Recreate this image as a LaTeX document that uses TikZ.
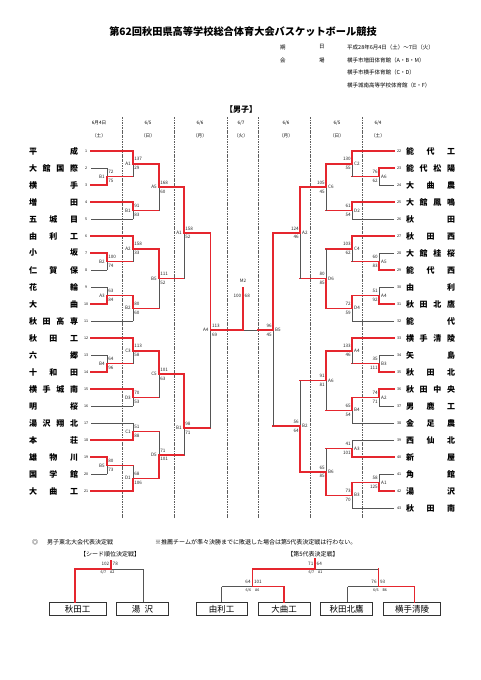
\documentclass[tikz,border=0pt]{standalone}
\usepackage{fontspec}
\setmainfont{Noto Sans CJK JP}
\usetikzlibrary{positioning}

\definecolor{winred}{HTML}{E5262E}
\definecolor{losegray}{HTML}{555555}
\definecolor{sepgray}{HTML}{5E5E5E}

\tikzset{
  win/.style={draw=winred, line width=1.5pt, line cap=rect},
  lose/.style={draw=losegray, line width=0.8pt},
  sep/.style={draw=sepgray, line width=0.6pt, dash pattern=on 2.2pt off 1pt on 0.6pt off 1pt},
  tin-t/.style=win, bin-t/.style=lose, tv-t/.style=win,  bv-t/.style=lose,
  tin-b/.style=lose, bin-b/.style=win, tv-b/.style=lose, bv-b/.style=win,
  tin-T/.style=win, bin-T/.style=win,  tv-T/.style=win,  bv-T/.style=lose,
  tin-B/.style=win, bin-B/.style=win,  tv-B/.style=lose, bv-B/.style=win,
  team/.style={inner sep=0pt, font=\fontsize{8}{9}\selectfont\bfseries},
  seed/.style={inner sep=0pt, font=\fontsize{3.6}{4}\selectfont},
  score/.style={inner sep=0.5pt, text=black!85, font=\fontsize{4.6}{5}\selectfont},
  mlabel/.style={inner sep=0.5pt, text=black!85, font=\fontsize{4.6}{5}\selectfont},
  head/.style={inner sep=0pt, align=center, font=\fontsize{4.6}{13}\selectfont},
  info/.style={inner sep=0pt, anchor=west, font=\fontsize{5.5}{6}\selectfont},
  note/.style={inner sep=0pt, anchor=west, font=\fontsize{6}{7}\selectfont},
  tiny/.style={inner sep=0pt, font=\fontsize{3.6}{4}\selectfont},
  resbox/.style={draw=black!80, line width=0.8pt, minimum height=13pt, inner sep=0pt, font=\fontsize{8.5}{9}\selectfont},
}

% spread glue between the letters of a school name
\newcommand\gp{\hfill{}}

% match on the left half: name, x, top in, bottom in, y out, winner code, scores, label
\newcommand\boutL[9]{%
  \coordinate (#1-t) at (#2,0 |- #3);
  \coordinate (#1-b) at (#2,0 |- #4);
  \coordinate (#1-o) at (#2,#5);
  \draw[bin-#6] (#4) -- (#1-b);
  \draw[bv-#6] (#1-b) -- (#1-o);
  \draw[tin-#6] (#3) -- (#1-t);
  \draw[tv-#6] (#1-t) -- (#1-o);
  \node[score, anchor=west, xshift=0.6pt, yshift=4.4pt] (#1-s1) at (#1-o) {#7};
  \node[score, anchor=west, xshift=0.6pt, yshift=-4.4pt] (#1-s2) at (#1-o) {#8};
  \node[mlabel, anchor=east, xshift=-1.5pt] (#1-l) at (#1-o) {#9};
}
% same on the right half
\newcommand\boutR[9]{%
  \coordinate (#1-t) at (#2,0 |- #3);
  \coordinate (#1-b) at (#2,0 |- #4);
  \coordinate (#1-o) at (#2,#5);
  \draw[bin-#6] (#4) -- (#1-b);
  \draw[bv-#6] (#1-b) -- (#1-o);
  \draw[tin-#6] (#3) -- (#1-t);
  \draw[tv-#6] (#1-t) -- (#1-o);
  \node[score, anchor=east, xshift=-0.6pt, yshift=4.4pt] (#1-s1) at (#1-o) {#7};
  \node[score, anchor=east, xshift=-0.6pt, yshift=-4.4pt] (#1-s2) at (#1-o) {#8};
  \node[mlabel, anchor=west, xshift=1.5pt] (#1-l) at (#1-o) {#9};
}

\begin{document}
\begin{tikzpicture}[x=1pt, y=-1pt]
\useasboundingbox[fill=white] (0,0) rectangle (481,680);

% heading
\node[font=\fontsize{10.2}{11}\selectfont\bfseries] (title) at (243,32) {第62回秋田県高等学校総合体育大会バスケットボール競技};
\node[info] (kiA) at (280,47) {期};
\node[info] (kiB) at (319,47) {日};
\node[info] (kiC) at (347,47) {平成28年6月4日（土）～7日（火）};
\node[info] (kaA) at (280,60) {会};
\node[info] (kaB) at (319,60) {場};
\node[info] (kaC) at (347,60) {横手市増田体育館（A・B・M）};
\node[info] (kaD) at (347,72.5) {横手市横手体育館（C・D）};
\node[info] (kaE) at (347,85) {横手城南高等学校体育館（E・F）};
\node[font=\fontsize{8}{9}\selectfont\bfseries] (boys) at (241,109) {【男子】};

% day columns
\node[head] (d1) at (99,129.5) {6月4日\\（土）};
\node[head] (d2) at (148,129.5) {6/5\\（日）};
\node[head] (d3) at (200,129.5) {6/6\\（月）};
\node[head] (d4) at (241,129.5) {6/7\\（火）};
\node[head] (d5) at (286,129.5) {6/6\\（月）};
\node[head] (d6) at (337,129.5) {6/5\\（日）};
\node[head] (d7) at (378,129.5) {6/4\\（土）};
\foreach \x in {122,174,227,258,310,362}
  \draw[sep] (\x,117) -- (\x,518);

% teams
\foreach \nm [count=\i] in {平\gp 成, 大\gp 館\gp 国\gp 際, 横\gp 手, 増\gp 田, 五\gp 城\gp 目,
    由\gp 利\gp 工, 小\gp 坂, 仁\gp 賀\gp 保, 花\gp 輪, 大\gp 曲, 秋\gp 田\gp 高\gp 専,
    秋\gp 田\gp 工, 六\gp 郷, 十\gp 和\gp 田, 横\gp 手\gp 城\gp 南, 明\gp 桜,
    湯\gp 沢\gp 翔\gp 北, 本\gp 荘, 雄\gp 物\gp 川, 国\gp 学\gp 館, 大\gp 曲\gp 工} {
  \node[team] (L\i) at (53.5,{151+17*(\i-1)}) {\makebox[49pt]{\nm}};
  \node[seed] (n\i) at (86,{151+17*(\i-1)}) {\i};
  \coordinate (t\i) at (91,{151+17*(\i-1)});
}
\foreach \nm [count=\k from 22] in {能\gp 代\gp 工, 能\gp 代\gp 松\gp 陽, 大\gp 曲\gp 農,
    大\gp 館\gp 鳳\gp 鳴, 秋\gp 田, 秋\gp 田\gp 西, 大\gp 館\gp 桂\gp 桜, 能\gp 代\gp 西,
    由\gp 利, 秋\gp 田\gp 北\gp 鷹, 能\gp 代, 横\gp 手\gp 清\gp 陵, 矢\gp 島,
    秋\gp 田\gp 北, 秋\gp 田\gp 中\gp 央, 男\gp 鹿\gp 工, 金\gp 足\gp 農,
    西\gp 仙\gp 北, 新\gp 屋, 角\gp 館, 湯\gp 沢, 秋\gp 田\gp 南} {
  \node[team] (R\k) at (430.5,{151+17*(\k-22)}) {\makebox[49pt]{\nm}};
  \node[seed] (n\k) at (399,{151+17*(\k-22)}) {\k};
  \coordinate (t\k) at (394,{151+17*(\k-22)});
}

% left half
\boutL{l1-b1}{107}{t2}{t3}{176.5}{b}{72}{75}{B1}
\boutL{l1-b2}{107}{t7}{t8}{261.5}{t}{100}{74}{B2}
\boutL{l1-a3}{107}{t9}{t10}{295.5}{b}{63}{84}{A3}
\boutL{l1-b4}{107}{t13}{t14}{363.5}{b}{64}{96}{B4}
\boutL{l1-b5}{107}{t19}{t20}{465.5}{t}{80}{73}{B5}
\boutL{l2-a1}{133}{t1}{l1-b1-o}{163.75}{T}{137}{29}{A1}
\boutL{l2-b1}{133}{t4}{t5}{210.5}{t}{91}{83}{B1}
\boutL{l2-a2}{133}{t6}{l1-b2-o}{248.75}{T}{158}{33}{A2}
\boutL{l2-b2}{133}{l1-a3-o}{t11}{308.25}{t}{80}{60}{B2}
\boutL{l2-c3}{133}{t12}{l1-b4-o}{350.75}{T}{113}{58}{C3}
\boutL{l2-d3}{133}{t15}{t16}{397.5}{t}{70}{53}{D3}
\boutL{l2-c1}{133}{t17}{t18}{431.5}{b}{51}{88}{C1}
\boutL{l2-d1}{133}{l1-b5-o}{t21}{478.25}{B}{68}{106}{D1}
\boutL{l3-a5}{159}{l2-a1-o}{l2-b1-o}{187.1}{T}{168}{60}{A5}
\boutL{l3-b5}{159}{l2-a2-o}{l2-b2-o}{278.5}{T}{111}{52}{B5}
\boutL{l3-c5}{159}{l2-c3-o}{l2-d3-o}{374.1}{T}{101}{63}{C5}
\boutL{l3-d5}{159}{l2-c1-o}{l2-d1-o}{454.9}{B}{71}{101}{D5}
\boutL{l4-a1}{184}{l3-a5-o}{l3-b5-o}{232.8}{T}{158}{52}{A1}
\boutL{l4-b1}{184}{l3-c5-o}{l3-d5-o}{428}{T}{98}{71}{B1}
\boutL{l5-a4}{210.7}{l4-a1-o}{l4-b1-o}{330}{T}{113}{69}{A4}

% right half
\boutR{r1-a6}{379}{t23}{t24}{176.5}{t}{76}{62}{A6}
\boutR{r1-a5}{379}{t28}{t29}{261.5}{b}{60}{83}{A5}
\boutR{r1-a4}{379}{t30}{t31}{295.5}{b}{51}{92}{A4}
\boutR{r1-b3}{379}{t34}{t35}{363.5}{b}{35}{111}{B3}
\boutR{r1-a2}{379}{t36}{t37}{397.5}{t}{74}{71}{A2}
\boutR{r1-a1}{379}{t41}{t42}{482.5}{b}{58}{125}{A1}
\boutR{r2-c2}{352}{t22}{r1-a6-o}{163.75}{T}{130}{55}{C2}
\boutR{r2-d2}{352}{t25}{t26}{210.5}{t}{61}{54}{D2}
\boutR{r2-c4}{352}{t27}{r1-a5-o}{248.75}{T}{103}{62}{C4}
\boutR{r2-d4}{352}{r1-a4-o}{t32}{308.25}{t}{72}{59}{D4}
\boutR{r2-a4}{352}{t33}{r1-b3-o}{350.75}{T}{133}{46}{A4}
\boutR{r2-b4}{352}{r1-a2-o}{t38}{410.25}{t}{65}{54}{B4}
\boutR{r2-a3}{352}{t39}{t40}{448.5}{b}{41}{101}{A3}
\boutR{r2-b3}{352}{r1-a1-o}{t43}{495.25}{t}{73}{70}{B3}
\boutR{r3-c6}{326}{r2-c2-o}{r2-d2-o}{187.1}{T}{105}{45}{C6}
\boutR{r3-d6}{326}{r2-c4-o}{r2-d4-o}{278.5}{B}{80}{85}{D6}
\boutR{r3-a6}{326}{r2-a4-o}{r2-b4-o}{380.5}{T}{91}{81}{A6}
\boutR{r3-b6}{326}{r2-a3-o}{r2-b3-o}{471.9}{B}{65}{85}{B6}
\boutR{r4-a2}{300}{r3-c6-o}{r3-d6-o}{232.8}{T}{124}{46}{A2}
\boutR{r4-b2}{300}{r3-a6-o}{r3-b6-o}{426.2}{B}{56}{64}{B2}
\boutR{r5-b5}{273}{r4-a2-o}{r4-b2-o}{330}{T}{96}{45}{B5}

% final
\coordinate (m2-o) at (243,330);
\coordinate (m2-r) at (258,330);
\coordinate (m2-t) at (243,288);
\draw[lose] (m2-r) -- (m2-o);
\draw[win] (r5-b5-o) -- (m2-r);
\draw[win] (l5-a4-o) -- (m2-o);
\draw[win] (m2-o) -- (m2-t);
\node[mlabel] (m2-l) at (243,281) {M2};
\node[score, anchor=east] (m2-s1) at (242,296) {100};
\node[score, anchor=west] (m2-s2) at (244,296) {68};

% Tohoku qualifiers
\node[inner sep=0pt, font=\fontsize{6}{7}\selectfont] (mark) at (35,542.7) {◎};
\node[note] (note1) at (47,542.7) {男子東北大会代表決定戦};
\node[note] (note2) at (155,542.7) {※推薦チームが準々決勝までに敗退した場合は第5代表決定戦は行わない。};
\node[inner sep=0pt, font=\fontsize{6}{7}\selectfont] (seedt) at (110,554) {【シード順位決定戦】};
\node[inner sep=0pt, font=\fontsize{6}{7}\selectfont] (fiftht) at (313,554) {【第5代表決定戦】};

\node[resbox, minimum width=56.7pt] (b-akk) at (77.7,609.2) {秋田工};
\node[resbox, minimum width=51.6pt] (b-yzw) at (142.5,609.2) {湯\hspace{0.5em}沢};
\node[resbox, minimum width=51.3pt] (b-yri) at (221.7,609.2) {由利工};
\node[resbox, minimum width=51.7pt] (b-omg) at (284.2,609.2) {大曲工};
\node[resbox, minimum width=51.6pt] (b-akt) at (346.5,609.2) {秋田北鷹};
\node[resbox, minimum width=57.4pt] (b-ykt) at (412,609.2) {横手清陵};

\coordinate (s-top) at (111,560.5);
\coordinate (s-j) at (111,569);
\coordinate (s-l) at (75,569);
\coordinate (s-r) at (143.3,569);
\draw[lose] (s-j) -- (s-r);
\draw[lose] (s-r) -- (s-r |- b-yzw.north);
\draw[win] (s-top) -- (s-j);
\draw[win] (s-j) -- (s-l);
\draw[win] (s-l) -- (s-l |- b-akk.north);
\node[score, anchor=east] (s-s1) at (110,564.3) {102};
\node[score, anchor=west] (s-s2) at (112,564.3) {78};
\node[tiny] (s-day) at (107.5,572.5) {6/7\hspace{4pt}A2};

\coordinate (f-top) at (315,558.5);
\coordinate (f-j) at (315,569);
\coordinate (f-l) at (252.3,569);
\coordinate (f-r) at (378.3,569);
\coordinate (f-a) at (252.3,586.7);
\coordinate (f-al) at (221.7,586.7);
\coordinate (f-ar) at (284,586.7);
\coordinate (f-b) at (378.3,586.7);
\coordinate (f-bl) at (347.7,586.7);
\coordinate (f-br) at (414.3,586.7);
\draw[lose] (f-j) -- (f-r);
\draw[lose] (f-a) -- (f-al);
\draw[lose] (f-al) -- (f-al |- b-yri.north);
\draw[lose] (f-b) -- (f-bl);
\draw[lose] (f-bl) -- (f-bl |- b-akt.north);
\draw[win] (f-top) -- (f-j);
\draw[win] (f-j) -- (f-l);
\draw[win] (f-l) -- (f-a);
\draw[win] (f-a) -- (f-ar);
\draw[win] (f-ar) -- (f-ar |- b-omg.north);
\draw[win] (f-r) -- (f-b);
\draw[win] (f-b) -- (f-br);
\draw[win] (f-br) -- (f-br |- b-ykt.north);
\node[score, anchor=east] (f-s1) at (314,564.3) {71};
\node[score, anchor=west] (f-s2) at (316,564.3) {64};
\node[tiny] (f-day) at (315.5,572.5) {6/7\hspace{4pt}A1};
\node[score, anchor=east] (fa-s1) at (251.3,581.7) {64};
\node[score, anchor=west] (fa-s2) at (253.3,581.7) {101};
\node[tiny] (fa-day) at (252.5,590.5) {6/6\hspace{4pt}A6};
\node[score, anchor=east] (fb-s1) at (377.3,581.7) {76};
\node[score, anchor=west] (fb-s2) at (379.3,581.7) {93};
\node[tiny] (fb-day) at (380,590.5) {6/6\hspace{4pt}B6};
\end{tikzpicture}
\end{document}
